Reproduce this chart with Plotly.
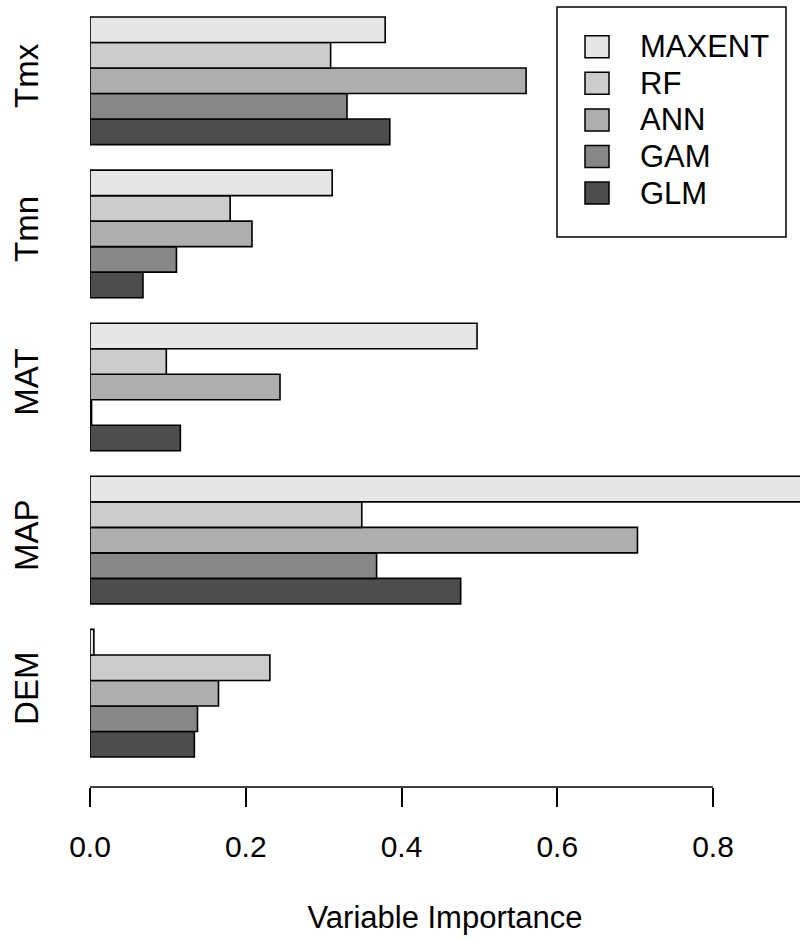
import plotly.graph_objects as go

# ---- data ----
variables = ["DEM", "MAP", "MAT", "Tmn", "Tmx"]          # bottom -> top
models = ["MAXENT", "RF", "ANN", "GAM", "GLM"]
maxent = [0.005, 1.000, 0.497, 0.311, 0.379]
rf = [0.231, 0.349, 0.098, 0.180, 0.309]
ann = [0.165, 0.703, 0.244, 0.208, 0.560]
gam = [0.138, 0.368, 0.002, 0.111, 0.330]
glm = [0.134, 0.476, 0.116, 0.068, 0.385]
model_colors = ["#E6E6E6", "#CCCCCC", "#AEAEAE", "#878787", "#4D4D4D"]
tick_vals = [0.0, 0.2, 0.4, 0.6, 0.8]
tick_text = ["0.0", "0.2", "0.4", "0.6", "0.8"]
x_title = "Variable Importance"

series = [maxent, rf, ann, gam, glm]

W, H = 800, 940
ML, MR, MT, MB = 90, 0, 0, 153
FONT = "Liberation Sans, Arial, Helvetica, sans-serif"

fig = go.Figure()
# add bottom-most (GLM) first so MAXENT ends up on top of each group
for name, vals, col in reversed(list(zip(models, series, model_colors))):
    fig.add_trace(go.Bar(
        y=variables, x=vals, name=name, orientation="h",
        marker=dict(color=col, line=dict(color="black", width=1.6)),
        showlegend=False,
    ))

# axis line only spanning the tick range (as in R)
fig.add_shape(type="line", xref="x", yref="paper",
              x0=tick_vals[0], x1=tick_vals[-1], y0=0, y1=0,
              line=dict(color="black", width=1.5))

# custom legend (pixel -> paper helpers)
pw, ph = W - ML - MR, H - MT - MB
def px(x):
    return (x - ML) / pw
def py(y):
    return (H - MB - y) / ph

fig.add_shape(type="rect", xref="paper", yref="paper",
              x0=px(557), x1=px(786), y0=py(237), y1=py(7),
              line=dict(color="black", width=1.5), fillcolor="white")
row0, dy = 46.7, 36.6
for i, (name, col) in enumerate(zip(models, model_colors)):
    yc = row0 + i * dy
    fig.add_shape(type="rect", xref="paper", yref="paper",
                  x0=px(585), x1=px(609), y0=py(yc + 11), y1=py(yc - 11),
                  line=dict(color="black", width=1.5), fillcolor=col)
    fig.add_annotation(xref="paper", yref="paper", x=px(638), y=py(yc),
                       text=name, showarrow=False, xanchor="left", yanchor="middle",
                       font=dict(size=31, color="black", family=FONT))

unit = 740 / (5 * 6 - 1) * 6  # pixels per category
fig.update_layout(
    width=W, height=H,
    margin=dict(l=ML, r=MR, t=MT, b=MB, pad=0),
    paper_bgcolor="white", plot_bgcolor="white",
    barmode="group", bargap=1/6, bargroupgap=0,
    font=dict(family=FONT, size=30, color="black"),
    xaxis=dict(range=[0, pw / (623 / 0.8)], tickvals=tick_vals, ticktext=tick_text,
               ticks="outside", ticklen=19, tickwidth=1.5, tickcolor="black",
               showline=False, showgrid=False, zeroline=False,
               tickfont=dict(size=30), ticklabelstandoff=14,
               title=dict(text=x_title, font=dict(size=31), standoff=44)),
    yaxis=dict(categoryorder="array", categoryarray=variables,
               range=[-5/12 - 30/unit, 4 + 5/12 + 17/unit],
               showline=False, showgrid=False, zeroline=False,
               ticks="", tickangle=-90, tickfont=dict(size=33),
               ticklabelstandoff=44),
)

fig.write_html("out.html", config={"displayModeBar": False},
               post_script="document.body.style.margin='0px';document.body.style.padding='0px';")
